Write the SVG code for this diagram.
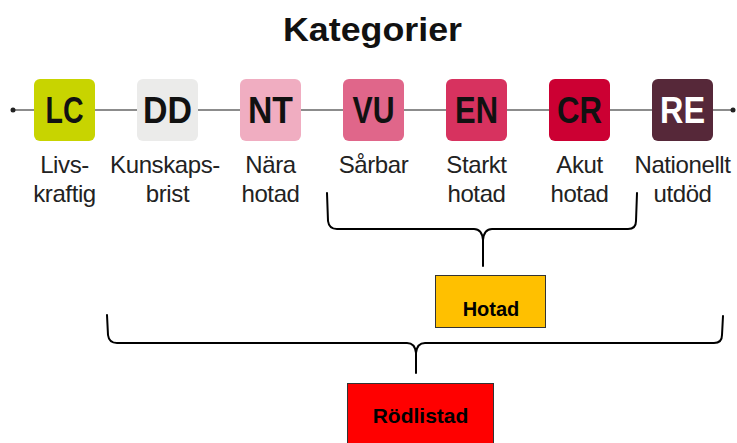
<svg xmlns="http://www.w3.org/2000/svg" width="737" height="443" viewBox="0 0 737 443">
<style>
.bg{fill:#ffffff}
.cat{stroke:none}
.code{font-family:"Liberation Sans",Arial,sans-serif;font-size:36px;font-weight:bold;fill:#111;text-anchor:middle}
.lbl{font-family:"Liberation Sans",Arial,sans-serif;font-size:24px;fill:#222;text-anchor:middle;letter-spacing:-0.4px}
.title{font-family:"Liberation Sans",Arial,sans-serif;font-size:33px;font-weight:bold;fill:#111;text-anchor:middle}
.brace{fill:none;stroke:#000;stroke-width:2;stroke-linecap:round;stroke-linejoin:round}
.tl{stroke:#8c8c8c;stroke-width:2}
.box{stroke:#333;stroke-width:1}
.bt{font-family:"Liberation Sans",Arial,sans-serif;font-weight:bold;fill:#000;text-anchor:middle}
</style>
<rect class="bg" x="0" y="0" width="737" height="443"/>
<text id="title" class="title" x="372.5" y="41" textLength="179" lengthAdjust="spacingAndGlyphs">Kategorier</text>
<g id="connectors">
<line class="tl" x1="13" y1="110" x2="733" y2="110"/>
<circle cx="13" cy="110" r="2.5" fill="#222"/>
<circle cx="733" cy="110" r="2.5" fill="#222"/>
<path class="brace" d="M327,193 L328,221 Q329,229 337,229 L474,229 Q482,229 483,240 L483,266 M483,240 Q484,229 492,229 L628,229 Q636,229 636,221 L637,193"/>
<path class="brace" d="M107,315 L108,335 Q109,343 117,343 L407,343 Q415,343 416,353 L416,373 M416,353 Q417,343 425,343 L714,343 Q722,343 722,335 L723,316"/>
</g>
<g id="LC">
<rect class="cat" x="34" y="79" width="61" height="62" rx="6" fill="#c8d400"/>
<text class="code" x="64.5" y="123" textLength="38" lengthAdjust="spacingAndGlyphs">LC</text>
<text class="lbl" x="64.5" y="173">Livs-</text>
<text class="lbl" x="64.5" y="202">kraftig</text>
</g>
<g id="DD">
<rect class="cat" x="137" y="79" width="61" height="62" rx="6" fill="#ebebea"/>
<text class="code" x="167.5" y="123" textLength="49" lengthAdjust="spacingAndGlyphs">DD</text>
<text class="lbl" x="165" y="173">Kunskaps-</text>
<text class="lbl" x="167.5" y="202">brist</text>
</g>
<g id="NT">
<rect class="cat" x="240" y="79" width="61" height="62" rx="6" fill="#f0adc1"/>
<text class="code" x="270.5" y="123" textLength="45" lengthAdjust="spacingAndGlyphs">NT</text>
<text class="lbl" x="270.5" y="173">Nära</text>
<text class="lbl" x="270.5" y="202">hotad</text>
</g>
<g id="VU">
<rect class="cat" x="343" y="79" width="61" height="62" rx="6" fill="#e0668a"/>
<text class="code" x="373.5" y="123" textLength="42" lengthAdjust="spacingAndGlyphs">VU</text>
<text class="lbl" x="373.5" y="173">Sårbar</text>
</g>
<g id="EN">
<rect class="cat" x="446" y="79" width="61" height="62" rx="6" fill="#d7325f"/>
<text class="code" x="476.5" y="123" textLength="43" lengthAdjust="spacingAndGlyphs">EN</text>
<text class="lbl" x="476.5" y="173">Starkt</text>
<text class="lbl" x="476.5" y="202">hotad</text>
</g>
<g id="CR">
<rect class="cat" x="549" y="79" width="61" height="62" rx="6" fill="#cc0033"/>
<text class="code" x="579.5" y="123" textLength="45" lengthAdjust="spacingAndGlyphs">CR</text>
<text class="lbl" x="579.5" y="173">Akut</text>
<text class="lbl" x="579.5" y="202">hotad</text>
</g>
<g id="RE">
<rect class="cat" x="652" y="79" width="61" height="62" rx="6" fill="#562839"/>
<text class="code" x="682.5" y="123" textLength="45" lengthAdjust="spacingAndGlyphs" style="fill:#ffffff">RE</text>
<text class="lbl" x="682.5" y="173">Nationellt</text>
<text class="lbl" x="682.5" y="202">utdöd</text>
</g>
<g id="Hotad">
<rect class="box" x="435.5" y="275.5" width="110" height="52" fill="#ffc000"/>
<text class="bt" x="491" y="316" font-size="20">Hotad</text>
</g>
<g id="Rodlistad">
<rect class="box" x="347.5" y="383.5" width="146" height="70" fill="#ff0000"/>
<text class="bt" x="420.5" y="423" font-size="21">Rödlistad</text>
</g>
</svg>
